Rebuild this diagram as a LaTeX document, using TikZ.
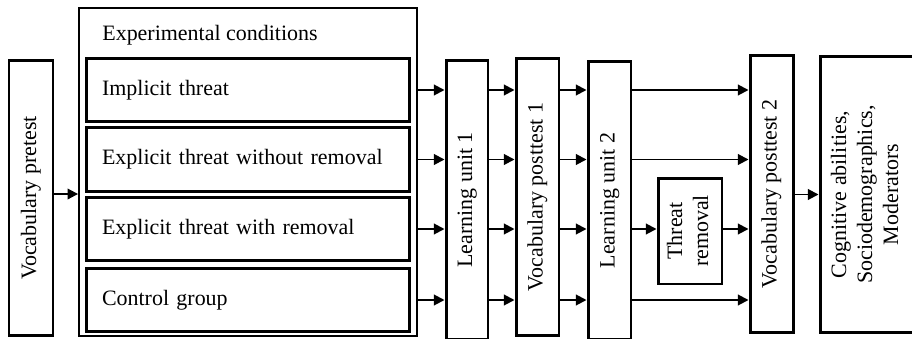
\documentclass[tikz,border=0pt]{standalone}
\usepackage{fontspec}
\setmainfont{Liberation Serif}
\usepackage{tikz}
\usetikzlibrary{arrows.meta,positioning,calc}

% text turned to read upwards
\newcommand{\vtext}[1]{\rotatebox{90}{\begin{tabular}{@{}c@{}}#1\end{tabular}}}

\begin{document}
\begin{tikzpicture}[
      x=0.02cm, y=-0.02cm,
      every node/.style={font=\fontsize{12.5}{14.8}\selectfont},
      box/.style={draw, rectangle, line width=1.7pt, inner sep=0pt},
      vbox/.style={box, minimum width=0.86cm},
      condbox/.style={box, align=left, text width=5.84cm, inner xsep=0.32cm, minimum height=1.27cm},
      outerbox/.style={draw, rectangle, line width=1.1pt, inner sep=0pt},
      arr/.style={->, line width=1.1pt},
      >={Triangle[length=6pt,width=6pt]}
    ]
    \useasboundingbox (0,0) rectangle (912,338);

    % pretest
    \node[vbox, minimum width=0.88cm, minimum height=5.52cm] (pre) at (31,198) {\vtext{Vocabulary pretest}};

    % the conditions
    \node[outerbox, minimum width=6.76cm, minimum height=6.56cm] (expc) at (248,172) {};
    \node[anchor=west, inner sep=0pt] (title) at (102,35) {Experimental conditions};
    \node[condbox] (imp) at (248,90) {Implicit threat};
    \node[condbox] (wo) at (248,159.5) {Explicit threat without removal};
    \node[condbox] (wr) at (248,229) {Explicit threat with removal};
    \node[condbox] (ctl) at (248,300) {Control group};

    % the phases
    \node[vbox, minimum width=0.84cm, minimum height=5.6cm] (lu1) at (467,200) {\vtext{Learning unit 1}};
    \node[vbox, minimum height=5.56cm] (vp1) at (537.5,197) {\vtext{Vocabulary posttest 1}};
    \node[vbox, minimum height=5.58cm] (lu2) at (609.5,200.5) {\vtext{Learning unit 2}};
    \node[box, minimum width=1.28cm, minimum height=2.12cm] (thr) at (690,231) {\vtext{Threat\\removal}};
    \node[vbox, minimum height=5.56cm] (vp2) at (771.5,194) {\vtext{Vocabulary posttest 2}};
    \node[box, minimum width=1.88cm, minimum height=5.54cm] (cog) at (867,194.5) {\vtext{Cognitive abilities,\\Sociodemographics,\\Moderators}};

    % the arrows
    \draw[arr] (pre.east |- 0,194) -- (expc.west |- 0,194);
    \foreach \r in {imp,wo,wr,ctl} {
      \draw[arr] (\r -| expc.east) -- (\r -| lu1.west);
      \draw[arr] (\r -| lu1.east) -- (\r -| vp1.west);
      \draw[arr] (\r -| vp1.east) -- (\r -| lu2.west);
    }
    \foreach \r in {imp,wo,ctl}
      \draw[arr] (\r -| lu2.east) -- (\r -| vp2.west);
    \draw[arr] (wr -| lu2.east) -- (wr -| thr.west);
    \draw[arr] (wr -| thr.east) -- (wr -| vp2.west);
    \draw[arr] (vp2.east |- cog) -- (cog.west);
    \end{tikzpicture}
\end{document}
